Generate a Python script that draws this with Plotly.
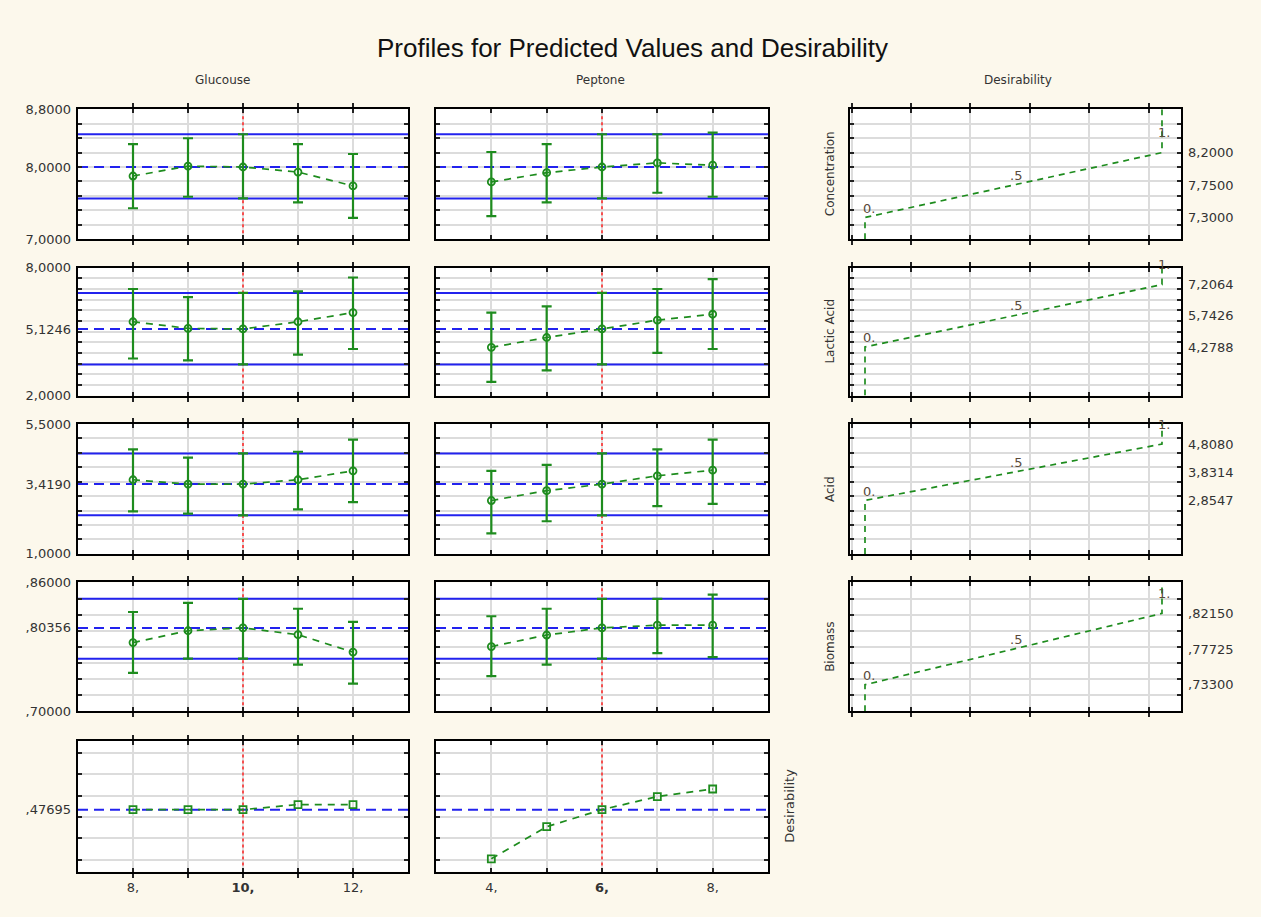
import numpy as np
import plotly.graph_objects as go

W, H = 1261, 917

# ---------------- data ----------------
glucose = [8, 9, 10, 11, 12]
peptone = [4, 5, 6, 7, 8]
glucose_current = 10
peptone_current = 6
glucose_axis = [7, 13]
peptone_axis = [3, 9]
glucose_labels = ["8,", "", "<b>10,</b>", "", "12,"]
peptone_labels = ["4,", "", "<b>6,</b>", "", "8,"]

responses = ["Concentration", "Lactic Acid", "Acid", "Biomass"]
resp_axis = [[7.0, 8.8], [2.0, 8.0], [1.0, 5.5], [0.70, 0.86]]
resp_grid = [0.2, 0.5, 0.5, 0.02]
resp_current = [8.0000, 5.1246, 3.4190, 0.80356]
resp_ci_low = [7.565, 3.462, 2.336, 0.7653]
resp_ci_high = [8.454, 6.815, 4.483, 0.8396]

# predicted values and confidence limits vs Glucouse
conc_glu = [7.875, 8.012, 8.000, 7.930, 7.738]
conc_glu_lo = [7.428, 7.588, 7.565, 7.510, 7.296]
conc_glu_hi = [8.317, 8.399, 8.454, 8.317, 8.180]
lact_glu = [5.462, 5.150, 5.1246, 5.462, 5.892]
lact_glu_lo = [3.738, 3.646, 3.462, 3.923, 4.185]
lact_glu_hi = [7.000, 6.615, 6.815, 6.892, 7.538]
acid_glu = [3.570, 3.419, 3.419, 3.570, 3.878]
acid_glu_lo = [2.473, 2.393, 2.336, 2.542, 2.793]
acid_glu_hi = [4.621, 4.335, 4.483, 4.541, 4.963]
bio_glu = [0.7853, 0.8000, 0.80356, 0.7951, 0.7735]
bio_glu_lo = [0.7478, 0.7653, 0.7653, 0.7580, 0.7343]
bio_glu_hi = [0.8233, 0.8347, 0.8396, 0.8273, 0.8110]

# predicted values and confidence limits vs Peptone
conc_pep = [7.793, 7.921, 8.000, 8.057, 8.025]
conc_pep_lo = [7.319, 7.510, 7.565, 7.643, 7.588]
conc_pep_hi = [8.208, 8.317, 8.454, 8.454, 8.476]
lact_pep = [4.262, 4.723, 5.1246, 5.538, 5.815]
lact_pep_lo = [2.646, 3.185, 3.462, 4.000, 4.185]
lact_pep_hi = [5.892, 6.185, 6.815, 7.000, 7.462]
acid_pep = [2.850, 3.193, 3.419, 3.707, 3.901]
acid_pep_lo = [1.708, 2.131, 2.336, 2.656, 2.736]
acid_pep_hi = [3.878, 4.084, 4.483, 4.621, 4.963]
bio_pep = [0.7804, 0.7947, 0.80356, 0.8069, 0.8069]
bio_pep_lo = [0.7437, 0.7580, 0.7653, 0.7722, 0.7673]
bio_pep_hi = [0.8180, 0.8273, 0.8396, 0.8396, 0.8449]

# overall desirability
des_axis = [0.3316, 0.6385]
des_grid0, des_grid = 0.36, 0.05
des_current = 0.47695
des_glu = [0.47695, 0.47695, 0.47695, 0.489, 0.489]
des_pep = [0.3616, 0.437, 0.47695, 0.5077, 0.5254]

# desirability functions (response value at desirability 0, .5, 1)
des_levels = [0.0, 0.5, 1.0]
des_level_text = ["0.", ".5", "1."]
des_low = [7.3000, 4.2788, 2.8547, 0.73300]
des_mid = [7.7500, 5.7426, 3.8314, 0.77725]
des_high = [8.2000, 7.2064, 4.8080, 0.82150]
dfun_axis = [-0.0505, 1.064]
dfun_grid0, dfun_grid = 0.155, 0.2

glu_series = [(conc_glu, conc_glu_lo, conc_glu_hi), (lact_glu, lact_glu_lo, lact_glu_hi),
              (acid_glu, acid_glu_lo, acid_glu_hi), (bio_glu, bio_glu_lo, bio_glu_hi)]
pep_series = [(conc_pep, conc_pep_lo, conc_pep_hi), (lact_pep, lact_pep_lo, lact_pep_hi),
              (acid_pep, acid_pep_lo, acid_pep_hi), (bio_pep, bio_pep_lo, bio_pep_hi)]

# ---------------- style ----------------
COL_X = [(78, 408), (436, 768), (850, 1181)]
ROW_Y = [(104, 236), (265, 395), (424, 556), (585, 716), (746, 879)]
BG = "#FCF8EC"
GREEN = "#1E8C1E"
BLUE = "#2222EE"
RED = "#FF2020"
GRID = "#DCDCDC"
FONT = "DejaVu Sans, Arial"
TICKFONT = dict(family=FONT, size=13, color="#333333")


def fmt(v):
    if abs(v) < 1:
        s = f"{v:.5f}".replace(".", ",")
        return s[1:] if s.startswith("0") else s
    return f"{v:.4f}".replace(".", ",")


frame = dict(showline=True, linecolor="black", linewidth=2, mirror="allticks",
             ticks="inside", ticklen=4, tickwidth=1.5, tickcolor="#222222",
             showgrid=True, gridcolor=GRID, gridwidth=1.5, zeroline=False,
             fixedrange=True, tickfont=TICKFONT)

fig = go.Figure()
lay = {}
counter = [0]


def ax_names(i):
    s = "" if i == 1 else str(i)
    return "xaxis" + s, "yaxis" + s, "x" + s, "y" + s


def new_panel(col, row, xcfg, ycfg):
    counter[0] += 1
    i = counter[0]
    xa, ya, xr, yr = ax_names(i)
    x0, x1 = COL_X[col]
    y0, y1 = ROW_Y[row]
    lay[xa] = dict(domain=[x0 / W, x1 / W], anchor=yr, **frame, **xcfg)
    lay[ya] = dict(domain=[1 - y1 / H, 1 - y0 / H], anchor=xr, **frame, **ycfg)
    return i, xr, yr


def label_axis(i, xr, yr, rng, vals, side):
    lay["yaxis" + str(100 + i)] = dict(
        overlaying=yr, anchor=xr, side=side, range=rng, tickmode="array",
        tickvals=vals, ticktext=[fmt(v) for v in vals], showgrid=False,
        showline=False, zeroline=False, ticks="", fixedrange=True,
        tickfont=TICKFONT, ticklabelstandoff=6)
    # empty trace so that the label axis gets drawn
    fig.add_trace(go.Scatter(x=[None], y=[None], xaxis=xr, yaxis="y" + str(100 + i),
                             mode="markers", hoverinfo="skip", showlegend=False))


def line(xr, yr, xs, ys, color, dash, width):
    fig.add_trace(go.Scatter(x=xs, y=ys, xaxis=xr, yaxis=yr, mode="lines",
                             line=dict(color=color, dash=dash, width=width),
                             hoverinfo="skip", showlegend=False))


annotations = []

factors = [(glucose, glucose_current, glucose_axis, glucose_labels, glu_series),
           (peptone, peptone_current, peptone_axis, peptone_labels, pep_series)]

# response profile rows
for r in range(4):
    rng = resp_axis[r]
    for c, (fx, fcur, frng, flab, series) in enumerate(factors):
        xcfg = dict(range=frng, tickmode="array", tickvals=fx, showticklabels=False)
        ycfg = dict(range=rng, tickmode="linear", tick0=rng[0], dtick=resp_grid[r],
                    showticklabels=False)
        i, xr, yr = new_panel(c, r, xcfg, ycfg)
        if c == 0:
            label_axis(i, xr, yr, rng, [rng[0], resp_current[r], rng[1]], "left")
        line(xr, yr, frng, [resp_ci_high[r]] * 2, BLUE, "solid", 2)
        line(xr, yr, frng, [resp_ci_low[r]] * 2, BLUE, "solid", 2)
        line(xr, yr, frng, [resp_current[r]] * 2, BLUE, "10px,6px", 2)
        line(xr, yr, [fcur, fcur], rng, RED, "dot", 1.5)
        pred, lo, hi = series[r]
        fig.add_trace(go.Scatter(
            x=fx, y=pred, xaxis=xr, yaxis=yr, mode="lines+markers",
            line=dict(color=GREEN, dash="7px,6px", width=1.7),
            marker=dict(symbol="circle-open", size=7, color=GREEN, line=dict(width=1.8)),
            error_y=dict(type="data", symmetric=False,
                         array=[h - p for h, p in zip(hi, pred)],
                         arrayminus=[p - l for p, l in zip(pred, lo)],
                         color=GREEN, thickness=2.2, width=5),
            hoverinfo="skip", showlegend=False))

    # desirability function panel
    xcfg = dict(range=dfun_axis, tickmode="linear", tick0=dfun_grid0, dtick=dfun_grid,
                showticklabels=False)
    ycfg = dict(range=rng, tickmode="linear", tick0=rng[0], dtick=resp_grid[r],
                showticklabels=False)
    i, xr, yr = new_panel(2, r, xcfg, ycfg)
    label_axis(i, xr, yr, rng, [des_low[r], des_mid[r], des_high[r]], "right")
    line(xr, yr,
         [des_levels[0]] + des_levels + [des_levels[-1]],
         [rng[0], des_low[r], des_mid[r], des_high[r], rng[1]],
         GREEN, "6px,5px", 1.7)
    for lv, txt, yv, ys in zip(des_levels, des_level_text,
                               [des_low[r], des_mid[r], des_high[r]], [9, 10, 20]):
        annotations.append(dict(x=lv, y=yv, xref=xr, yref=yr, text=txt, showarrow=False,
                                xanchor="left" if lv == 0 else "center", yanchor="middle",
                                yshift=ys, xshift=-4 if lv == 0 else 2,
                                font=dict(family=FONT, size=13, color="#5A4A3A")))
    y0, y1 = ROW_Y[r]
    annotations.append(dict(x=830 / W, y=1 - (y0 + y1) / 2 / H, xref="paper", yref="paper",
                            text=responses[r], textangle=-90, showarrow=False,
                            xanchor="center", yanchor="middle",
                            font=dict(family=FONT, size=12, color="#333333")))

# overall desirability row
for c, (fx, fcur, frng, flab, series) in enumerate(factors):
    xcfg = dict(range=frng, tickmode="array", tickvals=fx, ticktext=flab,
                showticklabels=True, ticklabelstandoff=3)
    ycfg = dict(range=des_axis, tickmode="linear", tick0=des_grid0, dtick=des_grid,
                showticklabels=False)
    i, xr, yr = new_panel(c, 4, xcfg, ycfg)
    if c == 0:
        label_axis(i, xr, yr, des_axis, [des_current], "left")
    line(xr, yr, frng, [des_current] * 2, BLUE, "10px,6px", 2)
    line(xr, yr, [fcur, fcur], des_axis, RED, "dot", 1.5)
    fig.add_trace(go.Scatter(
        x=fx, y=des_glu if c == 0 else des_pep, xaxis=xr, yaxis=yr, mode="lines+markers",
        line=dict(color=GREEN, dash="7px,6px", width=1.7),
        marker=dict(symbol="square-open", size=7, color=GREEN, line=dict(width=1.8)),
        hoverinfo="skip", showlegend=False))

annotations.append(dict(x=790 / W, y=1 - 812 / H, xref="paper", yref="paper",
                        text="Desirability", textangle=-90, showarrow=False,
                        xanchor="center", yanchor="middle",
                        font=dict(family=FONT, size=13, color="#333333")))

# titles
annotations.append(dict(x=632 / W, y=1 - 42 / H, xref="paper", yref="paper",
                        text="Profiles for Predicted Values and Desirability", showarrow=False,
                        xanchor="center", yanchor="middle",
                        font=dict(family="Arial, Liberation Sans", size=26, color="#111111")))
for txt, xp in [("Glucouse", 222), ("Peptone", 600), ("Desirability", 1018)]:
    annotations.append(dict(x=xp / W, y=1 - 74 / H, xref="paper", yref="paper",
                            text=txt, showarrow=False, xanchor="center", yanchor="middle",
                            font=dict(family=FONT, size=12, color="#333333")))

fig.update_layout(width=W, height=H, margin=dict(l=0, r=0, t=0, b=0),
                  paper_bgcolor=BG, plot_bgcolor="white", showlegend=False,
                  annotations=annotations, **lay)

fig.write_html("out.html")
